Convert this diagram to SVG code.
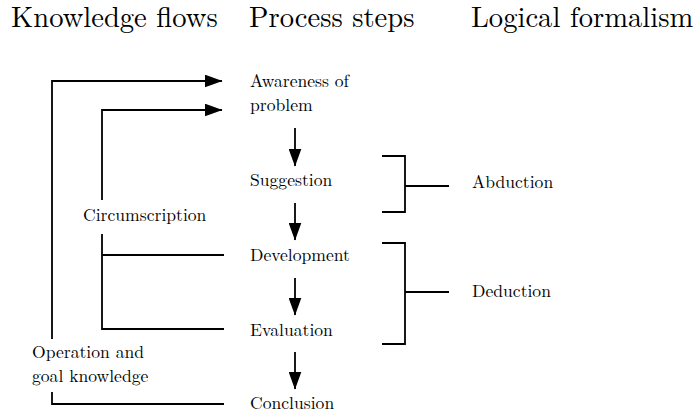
<svg xmlns="http://www.w3.org/2000/svg" width="697" height="415" viewBox="0 0 697 415">
  <style>
    .line { fill: none; stroke: #000; stroke-width: 1.8; stroke-linecap: butt; stroke-linejoin: miter; }
  </style>
  <defs>
    <marker id="arrow" viewBox="0 0 18 13" refX="17.5" refY="6.5" markerWidth="18" markerHeight="13" markerUnits="userSpaceOnUse" orient="auto">
      <path d="M0,0 L18,6.5 L0,13 Z" fill="#000"/>
    </marker>
  </defs>
  <rect width="697" height="415" fill="#fff"/>

  <g font-family="'Latin Modern Roman', 'Liberation Serif', serif" fill="#000">
    <!-- column headings -->
    <g id="headings" font-size="28.6">
      <text x="11" y="27">Knowledge flows</text>
      <text x="249" y="27">Process steps</text>
      <text x="471" y="27">Logical formalism</text>
    </g>

    <g font-size="17.6">
      <!-- process steps -->
      <g id="awareness">
        <text x="250" y="87">Awareness of</text>
        <text x="250" y="111">problem</text>
      </g>
      <g id="suggestion">
        <text x="250" y="186">Suggestion</text>
      </g>
      <g id="development">
        <text x="250" y="261">Development</text>
      </g>
      <g id="evaluation">
        <text x="250" y="336">Evaluation</text>
      </g>
      <g id="conclusion">
        <text x="250" y="409">Conclusion</text>
      </g>

      <!-- knowledge flow labels -->
      <g id="circumscription">
        <text x="83" y="221">Circumscription</text>
      </g>
      <g id="operation-goal">
        <text x="32" y="358">Operation and</text>
        <text x="32" y="382">goal knowledge</text>
      </g>

      <!-- logical formalism labels -->
      <g id="abduction">
        <text x="472" y="188">Abduction</text>
      </g>
      <g id="deduction">
        <text x="472" y="297">Deduction</text>
      </g>
    </g>
  </g>

  <g id="connectors">
    <!-- step sequence -->
    <path class="line" d="M295,128 V166" marker-end="url(#arrow)"/>
    <path class="line" d="M295,203 V240" marker-end="url(#arrow)"/>
    <path class="line" d="M295,278 V315" marker-end="url(#arrow)"/>
    <path class="line" d="M295,352 V389" marker-end="url(#arrow)"/>

    <!-- operation and goal knowledge loop -->
    <path class="line" d="M52,339 V81 H222" marker-end="url(#arrow)"/>
    <path class="line" d="M224,404 H52 V392"/>

    <!-- circumscription loop -->
    <path class="line" d="M102,200 V110 H222" marker-end="url(#arrow)"/>
    <path class="line" d="M224,329 H102 V234"/>
    <path class="line" d="M102,255 H224"/>

    <!-- abduction bracket -->
    <path class="line" d="M382,156 H405 V212 H382"/>
    <path class="line" d="M405,186 H449"/>

    <!-- deduction bracket -->
    <path class="line" d="M382,243 H405 V344 H382"/>
    <path class="line" d="M405,292 H449"/>
  </g>
</svg>
